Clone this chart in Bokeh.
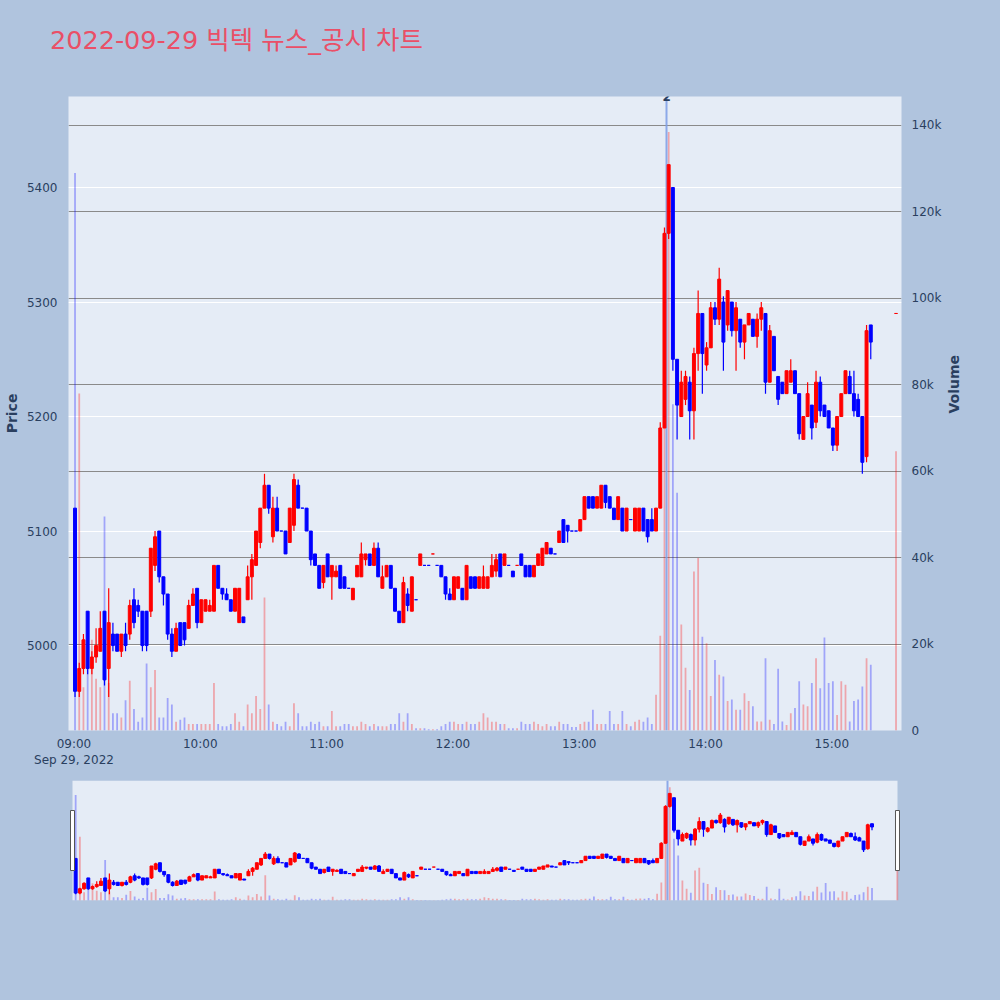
import math
from bokeh.plotting import figure
from bokeh.models import ColumnDataSource, Range1d, LinearAxis, FixedTicker, Grid, Label, Div
from bokeh.layouts import column
from bokeh.embed import file_html
from bokeh.resources import INLINE

title_text = "2022-09-29 빅텍 뉴스_공시 차트"

# x positions: minutes after 09:00 (2-minute candles), last one = 15:30 closing auction
minutes = [2 * k + 0.5 for k in range(190)] + [390.5]

opens = [
    5120, 4960, 4980, 5030, 4980, 4990, 4995, 5030, 4980, 5010,
    5010, 4995, 5010, 5010, 5040, 5035, 5030, 5030, 5030, 5070,
    5100, 5060, 5045, 5010, 4995, 5020, 5020, 5015, 5035, 5050,
    5020, 5030, 5030, 5030, 5070, 5050, 5045, 5040, 5030, 5020,
    5025, 5040, 5060, 5070, 5090, 5120, 5140, 5095, 5120, 5100,
    5100, 5090, 5105, 5140, 5120, 5120, 5100, 5080, 5070, 5055,
    5080, 5060, 5060, 5070, 5060, 5050, 5040, 5060, 5060, 5075,
    5080, 5070, 5085, 5050, 5060, 5070, 5050, 5030, 5020, 5045,
    5030, 5040, 5070, 5070, 5070, 5080, 5070, 5070, 5060, 5045,
    5040, 5050, 5050, 5040, 5060, 5060, 5050, 5050, 5050, 5060,
    5065, 5080, 5070, 5070, 5065, 5070, 5080, 5070, 5070, 5060,
    5070, 5070, 5080, 5085, 5080, 5090, 5110, 5105, 5100, 5100,
    5100, 5110, 5130, 5130, 5120, 5120, 5140, 5130, 5120, 5110,
    5120, 5100, 5110, 5100, 5100, 5120, 5110, 5110, 5100, 5120,
    5190, 5360, 5400, 5250, 5200, 5215, 5230, 5205, 5255, 5290,
    5245, 5260, 5295, 5285, 5300, 5280, 5300, 5275, 5285, 5265,
    5280, 5285, 5270, 5285, 5290, 5230, 5270, 5235, 5230, 5220,
    5230, 5240, 5220, 5180, 5200, 5210, 5195, 5230, 5210, 5205,
    5190, 5175, 5200, 5220, 5235, 5220, 5215, 5200, 5165, 5280,
    5290,
]
highs = [
    5120, 4985, 5010, 5030, 4995, 5015, 5030, 5030, 5050, 5020,
    5010, 5010, 5020, 5040, 5050, 5040, 5030, 5030, 5085, 5100,
    5100, 5060, 5045, 5015, 5020, 5020, 5020, 5040, 5050, 5050,
    5040, 5040, 5040, 5070, 5070, 5050, 5050, 5040, 5050, 5050,
    5025, 5070, 5080, 5100, 5120, 5150, 5140, 5130, 5130, 5100,
    5100, 5120, 5150, 5145, 5120, 5120, 5100, 5080, 5070, 5070,
    5080, 5070, 5070, 5070, 5060, 5050, 5050, 5070, 5090, 5080,
    5080, 5090, 5090, 5070, 5070, 5070, 5050, 5030, 5060, 5050,
    5060, 5040, 5080, 5070, 5070, 5080, 5070, 5070, 5060, 5050,
    5060, 5060, 5050, 5070, 5060, 5060, 5060, 5070, 5060, 5080,
    5080, 5080, 5080, 5070, 5065, 5070, 5080, 5070, 5070, 5070,
    5080, 5085, 5090, 5085, 5080, 5100, 5110, 5105, 5100, 5100,
    5110, 5130, 5130, 5130, 5130, 5140, 5140, 5130, 5120, 5130,
    5120, 5120, 5110, 5120, 5120, 5120, 5110, 5120, 5120, 5195,
    5365, 5420, 5400, 5250, 5240, 5240, 5235, 5260, 5310, 5290,
    5265, 5300, 5300, 5330, 5305, 5310, 5300, 5300, 5285, 5280,
    5290, 5285, 5290, 5300, 5290, 5280, 5270, 5235, 5230, 5240,
    5250, 5240, 5220, 5200, 5230, 5210, 5240, 5235, 5210, 5205,
    5190, 5200, 5220, 5240, 5240, 5240, 5220, 5200, 5280, 5280,
    5290,
]
lows = [
    4955, 4955, 4975, 4975, 4975, 4985, 4995, 4965, 4955, 4995,
    4995, 4990, 4995, 5005, 5015, 5025, 4995, 4995, 5025, 5065,
    5055, 5035, 5005, 4990, 4995, 5000, 5000, 5015, 5035, 5015,
    5020, 5030, 5030, 5030, 5050, 5040, 5040, 5030, 5030, 5020,
    5020, 5040, 5040, 5070, 5085, 5120, 5115, 5090, 5100, 5100,
    5080, 5090, 5100, 5120, 5120, 5100, 5070, 5070, 5050, 5050,
    5060, 5040, 5060, 5050, 5050, 5050, 5040, 5060, 5060, 5070,
    5070, 5070, 5060, 5050, 5060, 5050, 5030, 5020, 5020, 5030,
    5030, 5040, 5070, 5070, 5070, 5080, 5070, 5060, 5040, 5040,
    5040, 5050, 5040, 5040, 5050, 5050, 5050, 5050, 5050, 5060,
    5060, 5060, 5070, 5070, 5060, 5070, 5070, 5060, 5060, 5060,
    5070, 5070, 5080, 5080, 5080, 5090, 5090, 5090, 5100, 5100,
    5100, 5110, 5120, 5120, 5120, 5120, 5120, 5120, 5110, 5110,
    5100, 5100, 5110, 5100, 5100, 5100, 5090, 5100, 5100, 5120,
    5190, 5355, 5240, 5180, 5200, 5210, 5180, 5180, 5240, 5220,
    5240, 5260, 5280, 5280, 5240, 5275, 5270, 5240, 5260, 5250,
    5280, 5270, 5260, 5275, 5220, 5230, 5240, 5210, 5220, 5220,
    5230, 5220, 5180, 5180, 5200, 5180, 5190, 5200, 5200, 5190,
    5170, 5170, 5200, 5220, 5220, 5200, 5200, 5150, 5160, 5250,
    5290,
]
closes = [
    4960, 4980, 5005, 4980, 4990, 5000, 5015, 4970, 5020, 5000,
    4995, 5010, 5000, 5035, 5020, 5030, 5000, 5000, 5085, 5095,
    5060, 5045, 5010, 4995, 5015, 5000, 5005, 5035, 5045, 5020,
    5040, 5040, 5035, 5070, 5050, 5045, 5040, 5030, 5050, 5050,
    5020, 5060, 5075, 5100, 5120, 5140, 5120, 5120, 5100, 5100,
    5080, 5120, 5145, 5120, 5120, 5100, 5075, 5070, 5050, 5070,
    5060, 5070, 5065, 5050, 5050, 5050, 5050, 5070, 5080, 5080,
    5070, 5085, 5060, 5060, 5070, 5050, 5030, 5020, 5055, 5035,
    5060, 5040, 5080, 5070, 5070, 5080, 5070, 5060, 5045, 5040,
    5060, 5060, 5040, 5070, 5050, 5050, 5060, 5060, 5060, 5070,
    5075, 5060, 5080, 5070, 5060, 5070, 5070, 5060, 5060, 5070,
    5080, 5085, 5090, 5080, 5080, 5100, 5090, 5100, 5100, 5100,
    5110, 5130, 5120, 5120, 5130, 5140, 5125, 5120, 5110, 5130,
    5100, 5120, 5110, 5120, 5120, 5100, 5095, 5100, 5120, 5190,
    5360, 5420, 5250, 5210, 5230, 5235, 5205, 5255, 5290, 5255,
    5260, 5295, 5285, 5320, 5265, 5310, 5275, 5295, 5265, 5280,
    5290, 5270, 5285, 5295, 5230, 5275, 5240, 5215, 5220, 5240,
    5240, 5220, 5185, 5200, 5220, 5190, 5230, 5205, 5200, 5190,
    5175, 5200, 5220, 5240, 5220, 5205, 5200, 5160, 5275, 5265,
    5290,
]
volumes = [
    129000, 78000, 10000, 23000, 21000, 12000, 10000, 49500, 11000, 4000,
    4000, 3000, 7000, 11500, 5000, 2000, 3000, 15500, 10000, 14000,
    3000, 3000, 7500, 6000, 2000, 2500, 3000, 1500, 1500, 1500,
    1500, 1500, 1500, 11000, 1500, 1000, 1000, 1500, 4000, 2000,
    1000, 6000, 4000, 8000, 5000, 30800, 6000, 2000, 1500, 1000,
    2000, 1000, 6300, 4000, 1000, 1000, 2000, 1500, 2000, 1000,
    1000, 4500, 1000, 1000, 1500, 1500, 1000, 1000, 2000, 1500,
    1000, 1500, 1000, 1000, 1000, 1500, 1500, 4000, 2000, 4000,
    1500, 500, 500, 500, 300, 300, 300, 1000, 1500, 2000,
    2000, 1500, 1500, 2000, 1500, 1500, 2000, 4000, 3000, 2000,
    2000, 1500, 1500, 500, 500, 500, 2000, 1500, 1500, 2000,
    1500, 1000, 1500, 1000, 1000, 2000, 1500, 1500, 800, 800,
    1500, 2000, 2000, 4800, 1500, 1500, 1500, 4500, 1500, 1500,
    4500, 1500, 1000, 2000, 2500, 2000, 3000, 1500, 8300, 21900,
    91000, 138500, 75500, 55000, 24500, 14500, 9400, 36800, 39900, 21700,
    20200, 8000, 16300, 12900, 12500, 6800, 7200, 4800, 4800, 8600,
    6800, 5600, 2100, 2100, 16700, 2500, 1500, 14300, 2100, 1300,
    4000, 5200, 11400, 6000, 5600, 11000, 16700, 9800, 21500, 11000,
    11400, 3600, 11400, 10600, 2100, 6800, 7200, 10200, 16700, 15200,
    64600,
]

price_ticks = [5000, 5100, 5200, 5300, 5400]
vol_ticks = [0, 20000, 40000, 60000, 80000, 100000, 120000, 140000]
vol_tick_labels = ["0", "20k", "40k", "60k", "80k", "100k", "120k", "140k"]
time_ticks = [0, 60, 120, 180, 240, 300, 360]
time_tick_labels = ["09:00\nSep 29, 2022", "10:00", "11:00", "12:00", "13:00", "14:00", "15:00"]

news_minutes = [281.5]
news_counts = ["2"]

# ---------------- styling / geometry ----------------
PAGE_BG = "#B0C4DE"
PLOT_BG = "#E5ECF6"
UP, DOWN = "#FF0000", "#0000FF"
FONT = "DejaVu Sans"
TICK_COLOR = "#2a3f5f"
X_LO, X_HI = -2.6, 393.1
PRICE_LO, PRICE_HI = 4925.8, 5479.5
VOL_HI = 146700
FIG_W = 1000
TITLE_H = 60
FRAME_L, FRAME_T, FRAME_W, FRAME_H = 68, 36, 833, 634
MAIN_H = 720

colors = []
prev = opens[0]
for o, c in zip(opens, closes):
    if c > o:
        up = True
    elif c < o:
        up = False
    else:
        up = c > prev
    colors.append(UP if up else DOWN)
    prev = c

src = ColumnDataSource(dict(
    t=minutes, o=opens, h=highs, l=lows, c=closes, v=volumes,
    top=[max(o, c) for o, c in zip(opens, closes)],
    bot=[min(o, c) for o, c in zip(opens, closes)],
    color=colors,
))
news_src = ColumnDataSource(dict(t=news_minutes, n=news_counts))


def draw_series(fig):
    fig.vbar(x="t", top="v", bottom=0, width=0.85, y_range_name="vol", source=src,
             fill_color="color", fill_alpha=0.3, line_color=None)
    fig.vspan(x="t", source=news_src, line_color="#7d9de6", line_width=2, line_alpha=0.85)
    fig.segment(x0="t", y0="l", x1="t", y1="h", source=src, line_color="color", line_width=1.2)
    fig.vbar(x="t", top="top", bottom="bot", width=1.4, source=src,
             fill_color="color", line_color="color", line_width=1)


# ---------------- title strip ----------------
title_div = Div(
    text=('<div style="padding:24px 0 0 50px; margin:0; line-height:32px; white-space:nowrap; '
          "font-family:'DejaVu Sans','Noto Sans CJK KR',sans-serif; font-size:25.5px; "
          f'color:#EA4F67;">{title_text}</div>'),
    width=FIG_W, height=TITLE_H, margin=(0, 0, 0, 0))

# ---------------- main chart ----------------
p = figure(width=FIG_W, height=MAIN_H, x_range=Range1d(X_LO, X_HI),
           y_range=Range1d(PRICE_LO, PRICE_HI),
           output_backend="svg", toolbar_location=None, title=None,
           min_border_left=FRAME_L, min_border_right=FIG_W - FRAME_L - FRAME_W,
           min_border_top=FRAME_T, min_border_bottom=MAIN_H - FRAME_T - FRAME_H,
           background_fill_color=PLOT_BG, border_fill_color=PAGE_BG, outline_line_color=None)
p.extra_y_ranges = {"vol": Range1d(0, VOL_HI)}

p.xgrid.visible = False
p.ygrid.ticker = FixedTicker(ticks=price_ticks)
p.ygrid.grid_line_color = "white"
p.ygrid.grid_line_width = 1.2

vol_grid = Grid(dimension=1, ticker=FixedTicker(ticks=vol_ticks), y_range_name="vol",
                grid_line_color="#8a8a8a", grid_line_width=1)
p.add_layout(vol_grid)

xa = p.xaxis[0]
xa.ticker = FixedTicker(ticks=time_ticks)
xa.major_label_overrides = {k: v for k, v in zip(time_ticks, time_tick_labels)}

ya = p.yaxis[0]
ya.ticker = FixedTicker(ticks=price_ticks)
ya.axis_label = "Price"
ya.axis_label_standoff = 4

va = LinearAxis(y_range_name="vol", ticker=FixedTicker(ticks=vol_ticks),
                major_label_overrides={k: v for k, v in zip(vol_ticks, vol_tick_labels)},
                axis_label="Volume", axis_label_standoff=10,
                axis_label_orientation=math.pi / 2)
p.add_layout(va, "right")

for ax in (xa, ya, va):
    ax.axis_line_color = None
    ax.major_tick_line_color = None
    ax.minor_tick_line_color = None
    ax.major_label_text_font = FONT
    ax.major_label_text_font_size = "12px"
    ax.major_label_text_color = TICK_COLOR
    ax.axis_label_text_font = FONT
    ax.axis_label_text_font_size = "14px"
    ax.axis_label_text_font_style = "bold"
    ax.axis_label_text_color = TICK_COLOR
xa.major_label_standoff = 0
ya.major_label_standoff = 5
va.major_label_standoff = 4

draw_series(p)

for t, n in zip(news_minutes, news_counts):
    p.add_layout(Label(x=t, y=PRICE_HI, text=n, text_align="center", text_baseline="middle",
                       text_font=FONT, text_font_size="12px", text_font_style="bold",
                       text_color="#2a3f5f"))

# ---------------- range slider ----------------
SL_LO, SL_HI = -1.0, 390.6
p2 = figure(width=FIG_W, height=220, x_range=Range1d(-2.9, 392.5),
            y_range=Range1d(PRICE_LO, PRICE_HI),
            output_backend="svg", toolbar_location=None, title=None,
            x_axis_type=None, y_axis_type=None,
            min_border_left=FRAME_L, min_border_right=FIG_W - FRAME_L - FRAME_W,
            min_border_top=0, min_border_bottom=100,
            background_fill_color=PAGE_BG, border_fill_color=PAGE_BG, outline_line_color=None)
p2.extra_y_ranges = {"vol": Range1d(0, VOL_HI)}
p2.grid.visible = False
p2.quad(left=[SL_LO], right=[SL_HI], bottom=[PRICE_LO], top=[PRICE_HI],
        fill_color=PLOT_BG, line_color=None)
draw_series(p2)
mid = (PRICE_LO + PRICE_HI) / 2
p2.rect(x=[SL_LO, SL_HI], y=[mid, mid], width=4, height=60,
        width_units="screen", height_units="screen",
        fill_color="white", line_color="#555555", line_width=1)

layout = column(title_div, p, p2, spacing=0)
html = file_html(layout, INLINE, title="chart")
html = html.replace("</head>", "<style>html,body{background:#B0C4DE;}</style></head>", 1)
open("out.html", "w").write(html)
